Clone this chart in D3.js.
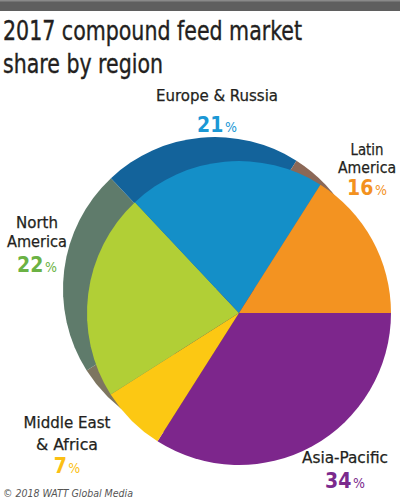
<!DOCTYPE html>
<html><head><meta charset="utf-8">
<script src="https://cdn.jsdelivr.net/npm/d3@7"></script>
<style>html,body{margin:0;padding:0;background:#fff;}svg{display:block;}</style>
</head><body>
<svg id="c" width="400" height="502"></svg>
<script>
const regions = ["Asia-Pacific", "Middle East & Africa", "North America", "Europe & Russia", "Latin America"];
const shares = [34, 7, 22, 21, 16];
const colors = ["#7d268c", "#fcc813", "#b1cf36", "#148fc8", "#f39321"];
const shadowColors = ["#5a2a6a", "#7d7560", "#5f7b6b", "#13639b", "#8b6857"];
const labelColors = ["#7b2a8d", "#fbbf14", "#6bb244", "#1b98d5", "#f3921f"];
const labelLines = [["Asia-Pacific"], ["Middle East", "& Africa"], ["North", "America"], ["Europe & Russia"], ["Latin", "America"]];

const svg = d3.select("#c");
const FONT = "'DejaVu Sans Condensed','DejaVu Sans',sans-serif";

svg.append("rect").attr("x",0).attr("y",0).attr("width",400).attr("height",11).attr("fill","#5f5f5f");
svg.append("rect").attr("x",0).attr("y",0).attr("width",400).attr("height",1.5).attr("fill","#8a8a8a");

const titleLines = [["2017 compound feed market", 40, 299], ["share by region", 73, 160]];
titleLines.forEach(([t,y,w])=>{
  svg.append("text").attr("x",3).attr("y",y).attr("font-family",FONT).attr("font-size",26)
    .attr("fill","#231f20").attr("stroke","#231f20").attr("stroke-width",0.35)
    .attr("textLength",w).attr("lengthAdjust","spacingAndGlyphs").text(t);
});

const data = regions.map((r,i)=>({region:r, value:shares[i], i}));
const pie = d3.pie().value(d=>d.value).sort(null).startAngle(Math.PI/2).endAngle(Math.PI/2+2*Math.PI);
const arcs = pie(data);
const R = 152;
const arc = d3.arc().innerRadius(0).outerRadius(R);
const cx = 239, cy = 313;

const sh = svg.append("g").attr("transform",`translate(${cx-24},${cy-24})`);
sh.selectAll("path").data(arcs).join("path").attr("d",arc).attr("fill",d=>shadowColors[d.data.i]);
const g = svg.append("g").attr("transform",`translate(${cx},${cy})`);
g.selectAll("path").data(arcs).join("path").attr("d",arc).attr("fill",d=>colors[d.data.i]);

// label layout: anchor centre x, first baseline y, line gap, pct offset, line widths
const labelPos = [
  {x:345, y:463, gap:0,  pct:25, w:[86]},
  {x:67,  y:428, gap:22, pct:23, w:[87,62]},
  {x:37,  y:228, gap:19, pct:25, w:[42,60]},
  {x:217, y:101, gap:0,  pct:31, w:[122]},
  {x:367, y:155, gap:18, pct:22, w:[33,58]}
];
labelPos.forEach((p,i)=>{
  const lines = labelLines[i];
  const t = svg.append("g");
  lines.forEach((ln,k)=>{
    t.append("text").attr("x",p.x - p.w[k]/2).attr("y",p.y + k*p.gap)
      .attr("font-family",FONT).attr("font-size",16.5).attr("fill","#231f20")
      .attr("stroke","#231f20").attr("stroke-width",0.25)
      .attr("textLength",p.w[k]).attr("lengthAdjust","spacingAndGlyphs").text(ln);
  });
  const py = p.y + (lines.length-1)*p.gap + p.pct;
  const pt = t.append("text").attr("x",p.x).attr("y",py).attr("text-anchor","middle")
      .attr("font-family",FONT).attr("fill",labelColors[i]);
  pt.append("tspan").attr("font-size",21).attr("font-weight","bold").text(shares[i]);
  pt.append("tspan").attr("font-size",14).attr("dx",1.5).text("%");
});

svg.append("text").attr("x",3).attr("y",497).attr("font-family",FONT)
  .attr("font-style","italic").attr("font-size",11).attr("fill","#555")
  .attr("textLength",130).attr("lengthAdjust","spacingAndGlyphs").text("© 2018 WATT Global Media");
</script>
</body></html>
